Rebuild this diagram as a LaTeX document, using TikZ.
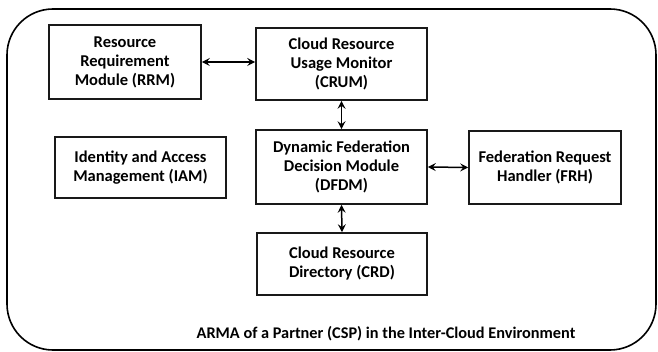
\documentclass[tikz,border=0pt]{standalone}
\usepackage{fontspec}
\setmainfont{Carlito}
\usetikzlibrary{arrows.meta}
\begin{document}
\begin{tikzpicture}[x=1pt,y=-1pt,
  module/.style={draw=black!90, line width=1.6pt, align=center, inner sep=0pt,
    font=\fontsize{16.5}{19}\selectfont\bfseries},
  link/.style={line width=1.5pt, {Stealth[length=8pt,width=8pt,inset=3pt]}-{Stealth[length=8pt,width=8pt,inset=3pt]}}
]
\useasboundingbox (0,0) rectangle (658,352);

% environment frame
\draw[line width=1.6pt, rounded corners=46pt] (7,9) rectangle (656,350);

% modules
\node[module, minimum width=152pt, minimum height=74pt] (rrm)  at (125,62)
  {Resource\\Requirement\\Module (RRM)};
\node[module, minimum width=171pt, minimum height=72pt] (crum) at (341.5,64)
  {Cloud Resource\\Usage Monitor\\(CRUM)};
\node[module, minimum width=171pt, minimum height=61pt] (iam)  at (140.5,167.5)
  {Identity and Access\\Management (IAM)};
\node[module, minimum width=171pt, minimum height=74pt] (dfdm) at (341.5,167)
  {Dynamic Federation\\Decision Module\\(DFDM)};
\node[module, minimum width=152pt, minimum height=73pt] (frh)  at (545,167.5)
  {Federation Request\\Handler (FRH)};
\node[module, minimum width=170pt, minimum height=62pt] (crd)  at (342,264)
  {Cloud Resource\\Directory (CRD)};

% connectors
\draw[link] (rrm.east) -- (rrm.east -| crum.west);
\draw[link] (crum.south) -- (dfdm.north);
\draw[link] (dfdm.east) -- (frh.west);
\draw[link] (dfdm.south) -- (crd.north);

% caption
\node[font=\fontsize{16.3}{18}\selectfont\bfseries] (cap) at (386,334)
  {ARMA of a Partner (CSP) in the Inter-Cloud Environment};
\end{tikzpicture}
\end{document}
